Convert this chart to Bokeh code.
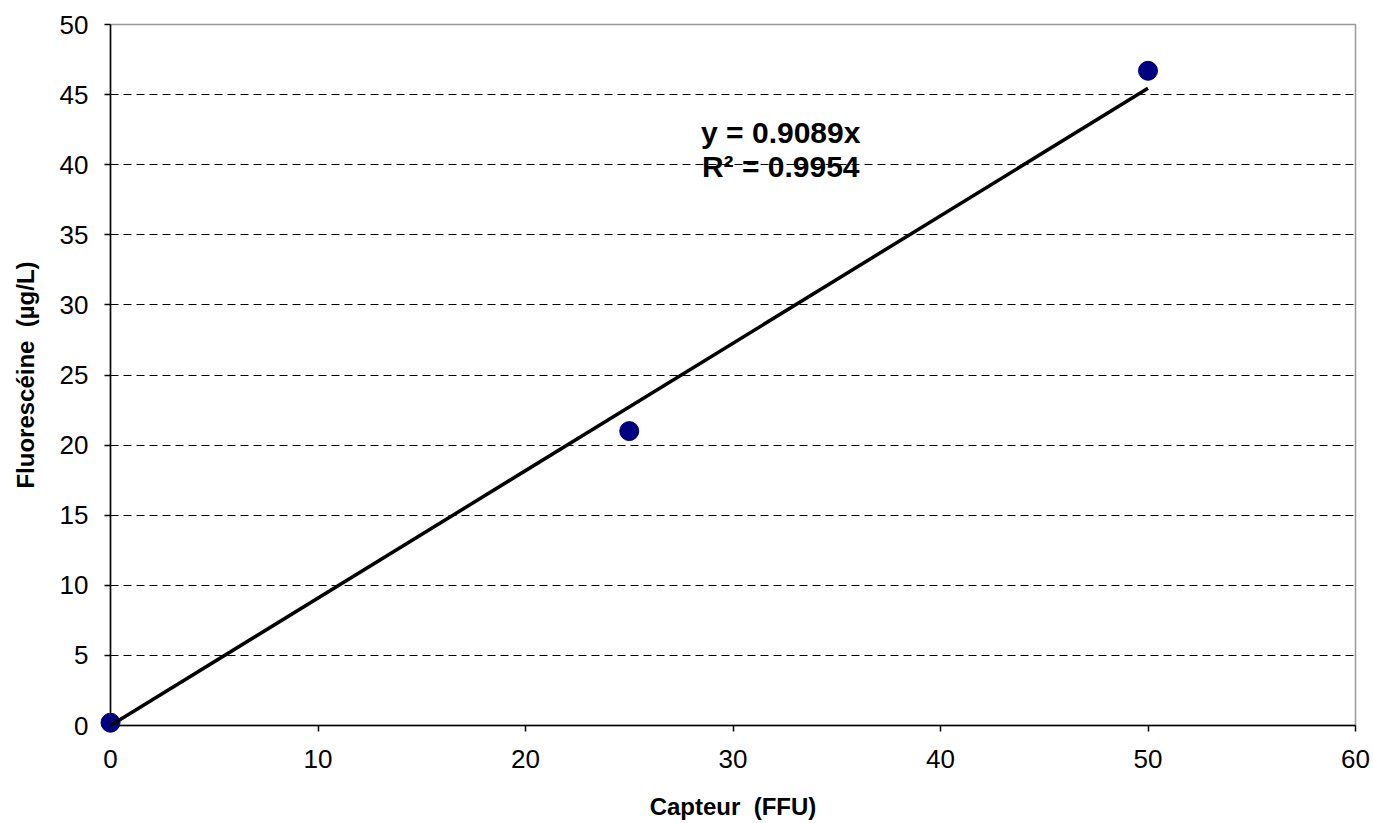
from bokeh.plotting import figure
from bokeh.models import Range1d, FixedTicker
from bokeh.core.properties import value
from bokeh.embed import file_html
from bokeh.resources import INLINE

# Calibration data: sensor reading (FFU) vs fluorescein concentration (µg/L)
capteur = [0, 25, 50]
fluoresceine = [0.2, 21.0, 46.7]

# Linear fit through origin
slope = 0.9089
r2 = 0.9954
fit_x = [0, 50]
fit_y = [slope * v for v in fit_x]

x_ticks = [0, 10, 20, 30, 40, 50, 60]
y_ticks = [0, 5, 10, 15, 20, 25, 30, 35, 40, 45, 50]
x_max, y_max = 60, 50

FONT = "Liberation Sans"

p = figure(width=1373, height=823, output_backend="svg", toolbar_location=None,
           x_range=Range1d(0, x_max), y_range=Range1d(0, y_max),
           min_border_left=110, min_border_right=18,
           min_border_top=24, min_border_bottom=98)

p.outline_line_color = "#999999"
p.outline_line_width = 1.5

p.xgrid.grid_line_color = None
p.ygrid.grid_line_color = "black"
p.ygrid.grid_line_dash = "8 5"
p.ygrid.grid_line_width = 1

for ax in (p.xaxis, p.yaxis):
    ax.axis_line_color = "black"
    ax.axis_line_width = 1.5
    ax.major_tick_line_color = "black"
    ax.major_tick_line_width = 1.5
    ax.major_tick_out = 6
    ax.major_tick_in = 0
    ax.minor_tick_line_color = None
    ax.major_label_text_font = FONT
    ax.major_label_text_font_size = "26px"
    ax.major_label_text_color = "black"
    ax.axis_label_text_font = FONT
    ax.axis_label_text_font_style = "bold"
    ax.axis_label_text_font_size = "24px"
    ax.axis_label_text_color = "black"

p.xaxis.ticker = FixedTicker(ticks=x_ticks)
p.yaxis.ticker = FixedTicker(ticks=y_ticks)
p.xaxis.major_label_standoff = 18
p.yaxis.major_label_standoff = 16
p.xaxis.axis_label = "Capteur\u00a0\u00a0(FFU)"
p.yaxis.axis_label = "Fluorescéine\u00a0\u00a0(µg/L)"
p.xaxis.axis_label_standoff = 22
p.yaxis.axis_label_standoff = 18

# Markers and fit line on the overlay level so the point sitting on the axes stays whole
pts = p.scatter(capteur, fluoresceine, size=19, fill_color="#000080", line_color="#000080")
pts.level = "overlay"
fit = p.line(fit_x, fit_y, line_color="black", line_width=3.5)
fit.level = "overlay"

p.text(x=[32.3, 32.3], y=[42.3, 39.9],
       text=[f"y = {slope}x", f"R² = {r2}"],
       text_font=value(FONT), text_font_style="bold", text_font_size="30px",
       text_align="center", text_baseline="middle", text_color="black")

open("out.html", "w").write(file_html(p, INLINE))
